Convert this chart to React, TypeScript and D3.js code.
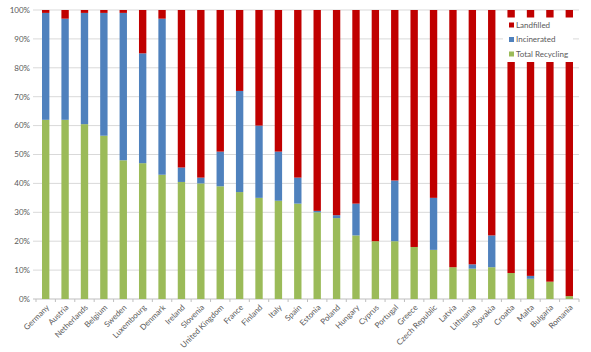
import React from "react";
import * as d3 from "d3";

// values (percent of municipal waste)
const countries = [
  "Germany", "Austria", "Netherlands", "Belgium", "Sweden", "Luxembourg", "Denmark",
  "Ireland", "Slovenia", "United Kingdom", "France", "Finland", "Italy", "Spain",
  "Estonia", "Poland", "Hungary", "Cyprus", "Portugal", "Greece", "Czech Republic",
  "Latvia", "Lithuania", "Slovakia", "Croatia", "Malta", "Bulgaria", "Romania",
];
const recycling = [62, 62, 60.5, 56.5, 48, 47, 43, 40.5, 40, 39, 37, 35, 34, 33, 30, 28, 22, 20, 20, 18, 17, 11, 10.5, 11, 9, 7, 6, 1];
const incinerated = [37, 35, 38.5, 42.5, 51, 38, 54, 5, 2, 12, 35, 25, 17, 9, 0.5, 1, 11, 0, 21, 0, 18, 0, 1.5, 11, 0, 1, 0, 0];
const landfilled = recycling.map((r, i) => 100 - r - incinerated[i]);

const seriesNames = ["Total Recycling", "Incinerated", "Landfilled"];
const colors = ["#9bbb59", "#4f81bd", "#c00000"];
const yTicks = [0, 10, 20, 30, 40, 50, 60, 70, 80, 90, 100];

const W = 591;
const H = 352;
const margin = { top: 10, right: 12, bottom: 53, left: 36 };
const font = "Lato, 'Open Sans', sans-serif";

export default function App() {
  const rows = countries.map((c, i) => ({
    country: c,
    "Total Recycling": recycling[i],
    Incinerated: incinerated[i],
    Landfilled: landfilled[i],
  }));
  const stack = d3.stack<any>().keys(seriesNames)(rows);

  const x = d3
    .scaleBand()
    .domain(countries)
    .range([margin.left, W - margin.right])
    .paddingInner(0.62)
    .paddingOuter(0.31);
  const y = d3.scaleLinear().domain([0, 100]).range([H - margin.bottom, margin.top]);
  const step = x.step();
  const base = y(0);

  return (
    <svg
      width={W}
      height={H}
      style={{ position: "absolute", left: 0, top: 0, background: "#fff" }}
      fontFamily={font}
    >
      {/* gridlines */}
      {yTicks.map((t) => (
        <line
          key={t}
          x1={margin.left - 3}
          x2={W - margin.right}
          y1={y(t)}
          y2={y(t)}
          stroke={t === 0 ? "#bfbfbf" : "#d9d9d9"}
          strokeWidth={1}
        />
      ))}
      {/* small ticks between categories */}
      {d3.range(countries.length + 1).map((i) => {
        const tx = margin.left + i * step;
        return (
          <line key={"t" + i} x1={tx} x2={tx} y1={base} y2={base + 3} stroke="#bfbfbf" />
        );
      })}
      {yTicks.map((t) => (
        <text
          key={"l" + t}
          x={margin.left - 6}
          y={y(t)}
          dy="0.35em"
          textAnchor="end"
          fontSize={8}
          fill="#595959"
        >
          {t}%
        </text>
      ))}
      {/* bars */}
      {stack.map((s, si) => (
        <g key={s.key} fill={colors[si]}>
          {s.map((d, i) => (
            <rect
              key={i}
              x={x(countries[i])}
              width={x.bandwidth()}
              y={y(d[1])}
              height={Math.max(0, y(d[0]) - y(d[1]))}
            />
          ))}
        </g>
      ))}
      {/* x labels */}
      {countries.map((c) => {
        const cx = (x(c) as number) + x.bandwidth() / 2 + 4;
        const cy = base + 9;
        return (
          <text
            key={c}
            transform={`translate(${cx},${cy}) rotate(-45)`}
            textAnchor="end"
            fontSize={8}
            fill="#595959"
          >
            {c}
          </text>
        );
      })}
      {/* legend */}
      <g>
        <rect x={503} y={17.5} width={70} height={44.5} fill="#fff" />
        {seriesNames
          .slice()
          .reverse()
          .map((n, i) => (
            <g key={n} transform={`translate(509,${25 + i * 14.5})`}>
              <rect x={0} y={-2.5} width={5} height={5} fill={colors[2 - i]} />
              <text x={7} y={0} dy="0.35em" fontSize={8} fill="#595959">
                {n}
              </text>
            </g>
          ))}
      </g>
    </svg>
  );
}
